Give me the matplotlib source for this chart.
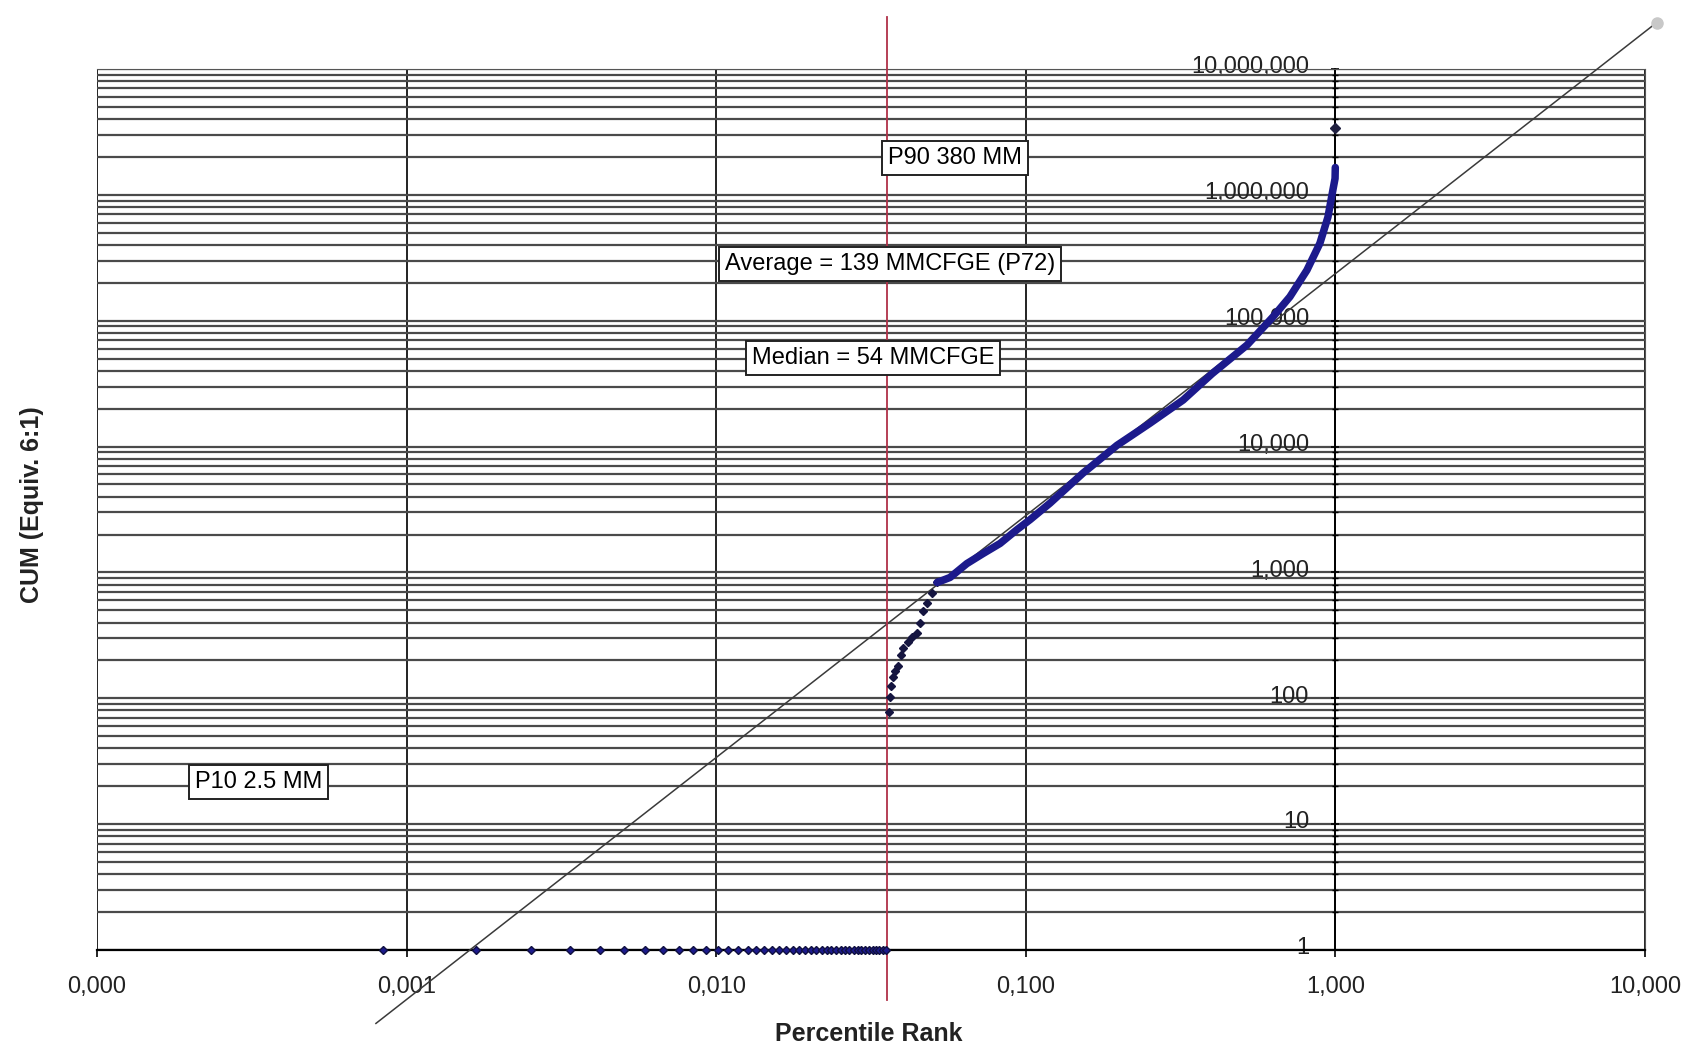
import matplotlib
matplotlib.use("Agg")
import matplotlib.pyplot as plt
import matplotlib.transforms as mtransforms
from matplotlib.ticker import FixedLocator, NullFormatter, LogLocator

plt.rcParams['font.family'] = ['Liberation Sans', 'DejaVu Sans']

# ---------------- data ----------------
x_tick_vals = [0.0001, 0.001, 0.01, 0.1, 1.0, 10.0]
x_tick_labels = ["0,000", "0,001", "0,010", "0,100", "1,000", "10,000"]
y_tick_vals = [1, 10, 100, 1000, 10000, 100000, 1000000, 10000000]
y_tick_labels = ["1", "10", "100", "1,000", "10,000", "100,000", "1,000,000", "10,000,000"]

# wells with CUM = 1 (flat series along the bottom)
flat_x = [0.00084, 0.00168, 0.00253, 0.00337, 0.00421, 0.00505, 0.00589, 0.00674,
          0.00758, 0.00842, 0.00926, 0.0101, 0.01095, 0.01179, 0.01263, 0.01347,
          0.01431, 0.01516, 0.0160, 0.01684, 0.01768, 0.01852, 0.01937, 0.0202,
          0.02105, 0.0219, 0.02273, 0.02357, 0.02441, 0.02525, 0.0261, 0.02694,
          0.02778, 0.02862, 0.02946, 0.0303, 0.03114, 0.0320, 0.03283, 0.03367,
          0.03451, 0.03535]
flat_y = [1] * len(flat_x)

# sparse points just right of the red line
sparse_x = [0.0362, 0.0364, 0.0368, 0.0372, 0.0379, 0.0386, 0.0394, 0.0401,
            0.0417, 0.0430, 0.0446, 0.0455, 0.0466, 0.0480, 0.0498, 0.0517]
sparse_y = [78, 102, 125, 148, 165, 182, 220, 251, 282, 305, 331, 398, 490,
            575, 692, 832]

# dense part of the distribution (thick blue curve)
curve_x = [0.0517, 0.0569, 0.0645, 0.0727, 0.0826, 0.0937, 0.1033, 0.1197, 0.153,
           0.197, 0.252, 0.322, 0.400, 0.518, 0.628, 0.713, 0.809, 0.891, 0.946,
           0.982, 0.9975, 0.9992]
curve_y = [832, 912, 1175, 1410, 1700, 2190, 2630, 3550, 6150, 10230, 15350,
           23400, 38000, 64000, 107000, 155000, 252000, 412000, 666000, 1100000,
           1350000, 1650000]

# largest field
top_x = [1.0]
top_y = [3400000]

# straight reference line (log-log)
diag_x = [0.000796, 10.91]
diag_y = [0.261, 2.34e7]

# cut-off (red vertical line)
red_x = 0.0357
red_y = [0.40, 2.6e7]

# ---------------- figure ----------------
W, H = 1686, 1049
fig = plt.figure(figsize=(W / 100, H / 100), dpi=100)
fig.patch.set_facecolor('white')
left, right, bottom, top = 97, 1645, 950, 69
ax = fig.add_axes([left / W, 1 - bottom / H, (right - left) / W, (bottom - top) / H])
ax.set_xscale('log')
ax.set_yscale('log')
ax.set_xlim(1e-4, 10)
ax.set_ylim(1, 1e7)

# grid
ax.xaxis.set_major_locator(FixedLocator(x_tick_vals))
ax.xaxis.set_minor_locator(FixedLocator([]))
ax.set_xticklabels(x_tick_labels)
ax.yaxis.set_major_locator(FixedLocator(y_tick_vals))
ax.set_yticklabels(y_tick_labels)
ax.yaxis.set_minor_locator(LogLocator(base=10, subs=[2, 3, 4, 5, 6, 7, 8, 9], numticks=20))
ax.yaxis.set_minor_formatter(NullFormatter())
ax.grid(True, which='major', axis='x', color='#111111', lw=1.3)
ax.grid(True, which='both', axis='y', color='#4a4a4a', lw=1.6)
ax.set_axisbelow(True)

# spines
ax.spines['left'].set_position(('data', 1.0))
ax.spines['left'].set_color('black')
ax.spines['left'].set_linewidth(1.3)
ax.spines['bottom'].set_color('black')
ax.spines['bottom'].set_linewidth(1.6)
ax.spines['right'].set_color('#555555')
ax.spines['top'].set_color('#555555')

ax.tick_params(axis='x', which='major', direction='out', length=5, width=1.2,
               labelsize=17, pad=14, colors='black')
ax.tick_params(axis='y', which='major', direction='inout', length=6, width=1.2,
               labelsize=17, pad=16, colors='black')
ax.tick_params(axis='y', which='minor', direction='inout', length=4, width=1.0)
for lab in ax.get_xticklabels() + ax.get_yticklabels():
    lab.set_color('#222222')
shift = mtransforms.ScaledTranslation(0, 3 / 72, fig.dpi_scale_trans)
for lab in ax.get_yticklabels():
    lab.set_transform(lab.get_transform() + shift)

# reference line
ax.plot(diag_x, diag_y, color='#3a3a3a', lw=1.1, clip_on=False, zorder=3)
ax.plot(diag_x[-1:], diag_y[-1:], 'o', color='#c8c8c8', ms=8, clip_on=False, zorder=3)

# red cut-off line
ax.plot([red_x, red_x], red_y, color='#b03048', lw=1.3, clip_on=False, zorder=4)

navy = '#1c1a8c'
ax.plot(flat_x, flat_y, 'D', color=navy, mec='#101040', ms=4.2, clip_on=False, zorder=5)
ax.plot(sparse_x, sparse_y, 'D', color='#151540', ms=4.0, zorder=5)
ax.plot(curve_x, curve_y, '-', color=navy, lw=5.4, solid_capstyle='round', zorder=5)
ax.plot(top_x, top_y, 'D', color='#202040', ms=4.8, clip_on=False, zorder=5)

# annotations
box = dict(boxstyle='square,pad=0.25', fc='white', ec='#222222', lw=1.4)
ax.text(0.059, 1.95e6, "P90 380 MM", fontsize=17, ha='center', va='center', bbox=box, zorder=6)
ax.text(0.0364, 2.81e5, "Average = 139 MMCFGE (P72)", fontsize=17, ha='center', va='center', bbox=box, zorder=6)
ax.text(0.0321, 5.04e4, "Median = 54 MMCFGE", fontsize=17, ha='center', va='center', bbox=box, zorder=6)
ax.text(0.000333, 21.6, "P10 2.5 MM", fontsize=17, ha='center', va='center', bbox=box, zorder=6)

# axis titles
fig.text(869 / W, 1 - 1034 / H, "Percentile Rank", fontsize=18, fontweight='bold',
         ha='center', va='center', color='#222222')
fig.text(32 / W, 1 - 505 / H, "CUM (Equiv. 6:1)", fontsize=18, fontweight='bold',
         ha='center', va='center', rotation=90, color='#222222')

fig.savefig('out.png', dpi=100, facecolor='white')
